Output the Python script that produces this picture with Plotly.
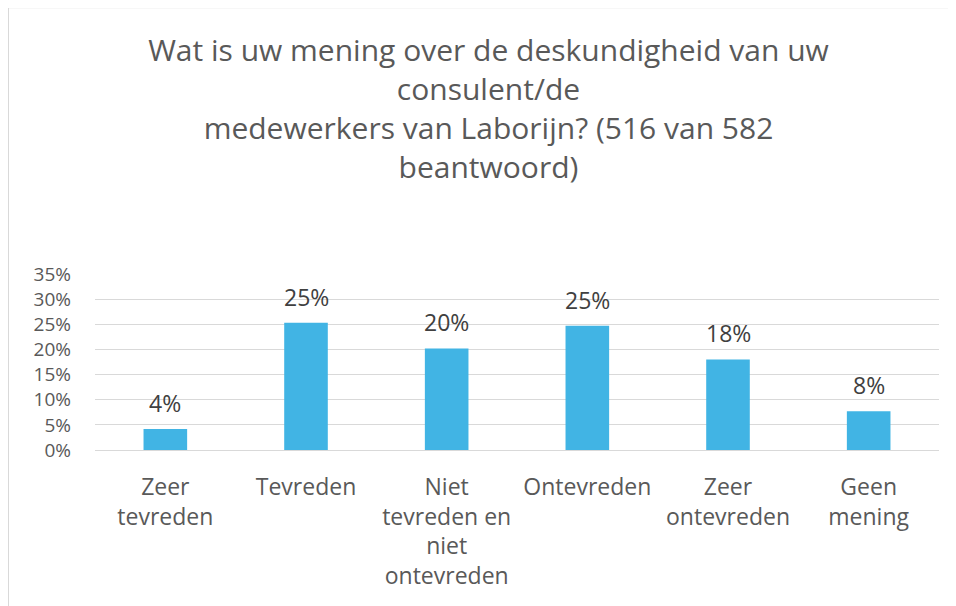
import plotly.graph_objects as go

categories = ["Zeer<br>tevreden", "Tevreden", "Niet<br>tevreden en<br>niet<br>ontevreden",
              "Ontevreden", "Zeer<br>ontevreden", "Geen<br>mening"]
values = [4.2, 25.3, 20.2, 24.7, 18.0, 7.7]
labels = ["4%", "25%", "20%", "25%", "18%", "8%"]
y_ticks = [0, 5, 10, 15, 20, 25, 30, 35]
y_ticklabels = ["0%", "5%", "10%", "15%", "20%", "25%", "30%", "35%"]

title_text = ("Wat is uw mening over de deskundigheid van uw<br>consulent/de<br>"
              "medewerkers van Laborijn? (516 van 582<br>beantwoord)")

FONT = "Open Sans"

fig = go.Figure()
fig.add_trace(go.Bar(x=categories, y=values, marker=dict(color="#41B4E4", line=dict(width=0)),
                     hoverinfo="skip"))

for c, v, t in zip(categories, values, labels):
    fig.add_annotation(x=c, y=v, text=t, showarrow=False, yanchor="bottom", yshift=8,
                       font=dict(family=FONT, size=23, color="#404040"))

fig.update_layout(
    width=956, height=606,
    margin=dict(l=87, r=25, t=266, b=164),
    paper_bgcolor="white", plot_bgcolor="white",
    bargap=0.69,
    showlegend=False,
    title=dict(text=title_text, x=0.5026, xanchor="center", y=0.912, yanchor="top",
               font=dict(family=FONT, size=30, color="#595959")),
    font=dict(family=FONT, size=23, color="#595959"),
    xaxis=dict(showgrid=False, showline=True, linecolor="#d9d9d9", linewidth=1,
               tickfont=dict(family=FONT, size=23, color="#595959"), ticks="",
               ticklabelstandoff=16),
    yaxis=dict(range=[0, 35], tickvals=y_ticks, ticktext=y_ticklabels,
               showgrid=True, gridcolor="#d9d9d9", gridwidth=1, zeroline=False,
               showline=False, ticks="", ticklabelstandoff=23,
               tickfont=dict(family=FONT, size=19, color="#595959")),
    shapes=[dict(type="rect", xref="paper", yref="paper", x0=-0.1025, x1=1.2, y0=-1.2, y1=2.513,
                 line=dict(color="#d9d9d9", width=1), fillcolor="rgba(0,0,0,0)")],
)

fig.write_html("out.html")
